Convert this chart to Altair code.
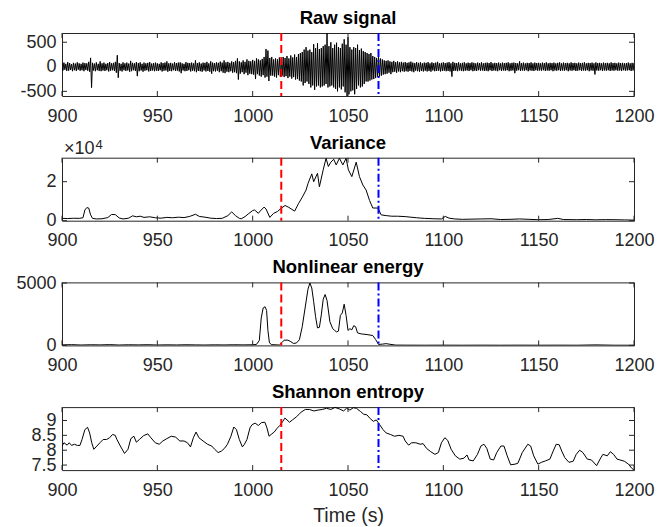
import altair as alt
import pandas as pd

# ---------------- data ----------------
raw_start = 900
raw_upper = [
    70, 85, 60, 95, 75, 55, 80, 65, 90, 70,
    60, 85, 75, 70, 100, 182, 80, 65, 90, 60,
    110, 70, 85, 60, 75, 95, 70, 80, 100, 235,
    75, 60, 90, 70, 85, 65, 120, 80, 70, 95,
    75, 90, 60, 85, 70, 80, 95, 65, 75, 85,
    70, 60, 90, 75, 85, 110, 70, 80, 65, 90,
    75, 85, 90, 70, 60, 95, 80, 75, 85, 70,
    130, 75, 90, 65, 85, 80, 100, 70, 110, 85,
    75, 90, 80, 105, 85, 130, 90, 100, 80, 110,
    95, 120, 170, 110, 90, 130, 100, 150, 120, 110,
    140, 120, 170, 150, 130, 160, 200, 360, 330, 180,
    200, 150, 170, 150, 190, 160, 200, 180, 220, 170,
    230, 190, 250, 200, 260, 280, 300, 350, 400, 330,
    350, 300, 460, 380, 480, 360, 380, 420, 450, 688,
    420, 500, 380, 450, 490, 400, 380, 470, 560, 450,
    600, 400, 350, 400, 380, 450, 340, 370, 320, 300,
    280, 260, 280, 220, 200, 180, 200, 170, 150, 130,
    120, 130, 110, 100, 120, 95, 110, 90, 100, 85,
    95, 80, 90, 105, 85, 75, 95, 80, 90, 70,
    85, 80, 95, 70, 90, 75, 85, 100, 70, 80,
    90, 75, 85, 95, 70, 100, 80, 75, 90, 70,
    80, 90, 70, 85, 75, 90, 80, 70, 85, 75,
    90, 70, 80, 85, 75, 95, 70, 80, 75, 85,
    70, 85, 75, 80, 90, 70, 80, 85, 75, 70,
    110, 75, 85, 70, 80, 75, 90, 70, 85, 75,
    80, 70, 85, 75, 90, 70, 80, 75, 85, 70,
    80, 90, 70, 85, 75, 80, 70, 90, 75, 80,
    70, 85, 75, 80, 90, 70, 80, 75, 85, 70,
    90, 75, 80, 70, 85, 75, 80, 70, 90, 75,
    80, 70, 85, 75, 80, 70, 75, 85, 70, 80,
    75,
]
raw_lower = [
    -75, -60, -85, -80, -65, -90, -70, -85, -60, -80,
    -70, -90, -65, -80, -100, -425, -75, -90, -70, -85,
    -90, -75, -85, -70, -95, -80, -70, -85, -120, -223,
    -80, -95, -70, -85, -75, -100, -90, -70, -85, -190,
    -90, -75, -100, -80, -70, -95, -85, -75, -90, -80,
    -85, -70, -95, -80, -75, -100, -85, -90, -70, -85,
    -80, -95, -130, -75, -90, -85, -70, -95, -80, -90,
    -110, -85, -90, -100, -75, -95, -85, -100, -140, -90,
    -95, -80, -110, -90, -120, -130, -100, -110, -90, -120,
    -110, -130, -260, -140, -110, -150, -120, -170, -140, -150,
    -160, -250, -150, -180, -200, -170, -220, -200, -290, -180,
    -180, -200, -220, -170, -200, -180, -210, -190, -230, -200,
    -240, -210, -260, -250, -280, -300, -380, -330, -300, -350,
    -420, -380, -470, -400, -380, -420, -400, -380, -350, -420,
    -400, -380, -420, -450, -500, -420, -460, -400, -520, -595,
    -560, -500, -480, -560, -450, -380, -420, -400, -350, -300,
    -300, -280, -260, -250, -230, -200, -200, -180, -160, -150,
    -140, -120, -150, -110, -100, -120, -95, -110, -90, -100,
    -90, -100, -85, -95, -110, -80, -90, -100, -85, -95,
    -80, -95, -85, -100, -75, -90, -85, -80, -95, -85,
    -80, -90, -85, -95, -200, -85, -80, -90, -75, -85,
    -90, -80, -75, -85, -70, -90, -80, -85, -70, -80,
    -75, -85, -80, -90, -70, -85, -75, -80, -90, -70,
    -85, -75, -80, -70, -90, -80, -75, -130, -80, -70,
    -85, -75, -80, -70, -90, -75, -80, -85, -70, -80,
    -75, -80, -70, -85, -75, -80, -70, -90, -75, -80,
    -70, -85, -75, -80, -70, -90, -75, -80, -70, -85,
    -80, -70, -85, -75, -80, -70, -90, -75, -80, -156,
    -75, -80, -70, -85, -75, -80, -70, -85, -75, -80,
    -70, -80, -75, -85, -70, -80, -75, -70, -85, -75,
    -70,
]

var_t = [
    900, 903, 906, 909, 911, 912, 913, 914, 915, 916,
    918, 921, 924, 926, 928, 930, 932, 935, 937, 939,
    941, 943, 946, 949, 952, 955, 958, 961, 964, 967,
    970, 972, 975, 978, 981, 984, 987, 989, 991, 993,
    994, 996, 998, 1000, 1001, 1003, 1004, 1006, 1007, 1009,
    1011, 1013, 1015, 1017, 1019, 1022, 1024, 1026, 1028, 1029,
    1031, 1032, 1034, 1035, 1037, 1038.5, 1039.7, 1041, 1042.5, 1043.8,
    1045.5, 1047.3, 1049, 1050.2, 1052, 1054.3, 1056, 1057.8, 1059.5, 1061.3,
    1063, 1065.7, 1067.4, 1070, 1073, 1076, 1080, 1083, 1086, 1090,
    1095, 1099, 1101, 1103, 1106, 1110, 1115, 1120, 1125, 1130,
    1135, 1140, 1145, 1150, 1155, 1160, 1163, 1170, 1175, 1180,
    1185, 1190, 1195, 1200,
]
var_v = [
    1200, 1100, 1250, 1200, 1500, 5500, 6700, 6500, 3000, 1200,
    900, 1000, 1600, 3200, 3100, 1400, 900, 1300, 2500, 2000,
    2300, 1700, 2000, 1500, 1300, 1700, 1500, 1800, 1600, 2200,
    3300, 2200, 1800, 1300, 1100, 1200, 2600, 4500, 2600, 1200,
    1000, 2100, 3700, 5200, 5500, 3800, 5000, 7000, 6000, 1700,
    3800, 4700, 6400, 7800, 6800, 4900, 8700, 12000, 15700, 19000,
    24000, 20000, 24300, 17400, 26100, 32000, 27800, 30000, 31500, 28600,
    32000, 28600, 32000, 26100, 22600, 30000, 22600, 18300, 15700, 10400,
    6500, 6500, 3000, 2600, 2300, 2300, 2100, 1800, 1500, 1200,
    1000, 900, 2200, 1300, 900, 700, 800, 900, 1000, 600,
    700, 900, 700, 500, 600, 1200, 600, 500, 600, 450,
    550, 500, 400, 300,
]

neo_t = [
    900, 905, 910, 915, 920, 925, 930, 935, 940, 945,
    950, 955, 960, 965, 970, 975, 980, 985, 990, 995,
    1000, 1002, 1003.5, 1004.5, 1005.5, 1006.5, 1007.3, 1008, 1008.8, 1010,
    1014, 1015.5, 1016.5, 1018.5, 1020, 1021.5, 1023, 1024.5, 1026, 1027.5,
    1029, 1030, 1031, 1032, 1033, 1034, 1035, 1036, 1037, 1038,
    1039, 1040.5, 1042, 1043, 1044, 1045, 1046, 1047, 1048, 1049,
    1050, 1051, 1052, 1053, 1054, 1055, 1057, 1060, 1063, 1064.5,
    1066, 1068, 1070, 1072, 1075, 1080, 1090, 1100, 1110, 1120,
    1130, 1140, 1150, 1160, 1170, 1180, 1190, 1200,
]
neo_v = [
    40, 60, 30, 50, 40, 60, 30, 50, 40, 55,
    30, 45, 35, 50, 40, 30, 45, 35, 50, 40,
    50, 80, 400, 2200, 3000, 3100, 2800, 1200, 200, 60,
    30, 250, 420, 420, 300, 150, 200, 450, 1500, 3000,
    4500, 5000, 4600, 3500, 2300, 1400, 1450, 2450, 3700, 4080,
    3600, 1900, 1340, 1200, 1080, 1150, 2400, 2600, 3300, 2400,
    1200, 1340, 1250, 1580, 1500, 1000, 920, 870, 790, 470,
    80, 100, 140, 90, 25, 20, 15, 20, 15, 20,
    15, 20, 15, 20, 15, 40, 15, 15,
]

ent_t = [
    900, 901, 902.7, 903.8, 905, 906.5, 908, 909.4, 910.5, 912,
    913.4, 914.5, 915.6, 916.7, 918.3, 919.9, 921.6, 923.4, 925, 926.5,
    927.9, 928.8, 930.6, 932.8, 934.6, 936.1, 937.7, 939, 940.6, 942.8,
    945, 946.6, 948.9, 951, 952.9, 955, 957.3, 959.6, 961.8, 964,
    965.8, 967.4, 968.9, 970.3, 971.8, 974, 976.3, 978.5, 980.1, 981.9,
    983.6, 985.2, 986.8, 988.6, 990.1, 991.5, 993, 994.6, 995.7, 997,
    998.6, 999.7, 1001.3, 1003, 1004.6, 1006.4, 1007.5, 1008.6, 1009.7, 1011.3,
    1012.6, 1014.2, 1015.8, 1016.9, 1018, 1019.3, 1020.9, 1023.1, 1025.4, 1027.6,
    1029.8, 1032.1, 1034.3, 1036.5, 1038.7, 1041, 1043.2, 1045.4, 1047.7, 1049.2,
    1051, 1052.8, 1054.4, 1056.6, 1058.2, 1059.9, 1061.7, 1063.3, 1064.8, 1066.6,
    1068.4, 1070, 1072.2, 1074.4, 1076.7, 1078.9, 1080, 1081.8, 1083.4, 1085.6,
    1087.8, 1089.4, 1091.2, 1093.4, 1095.6, 1097.4, 1099, 1100.8, 1102.3, 1104.1,
    1106.3, 1108.6, 1110.8, 1112.4, 1113.5, 1115.7, 1117.9, 1119.7, 1121.3, 1122.8,
    1124.6, 1126.4, 1128, 1130.2, 1131.8, 1133.5, 1135.3, 1137.6, 1139.1, 1141.4,
    1144.3, 1145.8, 1147.4, 1149.6, 1151.4, 1153.6, 1155.9, 1157.6, 1159.2, 1160.8,
    1162.1, 1163.7, 1165.9, 1168.1, 1169.7, 1171.5, 1173.2, 1175.5, 1177.7, 1180.4,
    1182.2, 1183.7, 1186, 1187.6, 1189.3, 1191.1, 1192.7, 1194.9, 1197.1, 1198.7,
    1200,
]
ent_v = [
    8.14, 8.25, 8.17, 8.25, 8.16, 8.2, 8.16, 8.16, 8.36, 8.69,
    8.77, 8.58, 8.25, 8.03, 8.14, 8.25, 8.36, 8.36, 8.42, 8.53,
    8.5, 8.36, 8.14, 7.89, 8.03, 8.39, 8.47, 8.27, 8.36, 8.49,
    8.55, 8.42, 8.25, 8.2, 8.31, 8.39, 8.47, 8.44, 8.31, 8.31,
    8.25, 8.11, 8.42, 8.61, 8.42, 8.31, 8.2, 8.14, 8.03, 7.92,
    7.97, 8.06, 8.2, 8.47, 8.78, 8.69, 8.36, 8.11, 8.2, 8.36,
    8.75, 8.86, 8.91, 8.83, 8.93, 8.94, 8.75, 8.47, 8.53, 8.61,
    8.72, 8.83, 8.97, 9.08, 9.02, 8.94, 9.02, 9.13, 9.28, 9.37,
    9.37, 9.32, 9.35, 9.37, 9.41, 9.37, 9.44, 9.39, 9.32, 9.41,
    9.35, 9.43, 9.41, 9.3, 9.21, 9.19, 9.06, 8.97, 9.02, 8.86,
    8.69, 8.58, 8.53, 8.47, 8.5, 8.47, 8.31, 8.17, 8.25, 8.25,
    8.2, 8.22, 8.06, 7.95, 7.86, 7.92, 8.25, 8.42, 8.33, 8.03,
    7.81, 7.7, 7.73, 7.84, 7.67, 7.64, 7.86, 8.14, 8.2, 8.06,
    7.7, 7.67, 7.92, 8.14, 8.14, 7.81, 7.51, 7.53, 7.56, 7.92,
    8.2, 8.14, 7.81, 7.53, 7.59, 7.64, 7.7, 7.97, 8.2, 8.18,
    7.97, 7.75, 7.59, 7.63, 7.86, 8.0, 7.92, 7.7, 7.67, 7.48,
    7.7, 7.86, 7.81, 7.95, 7.86, 7.7, 7.67, 7.63, 7.53, 7.4,
    7.33,
]

onset_time = [1015]
end_time = [1066]
x_ticks = [900, 950, 1000, 1050, 1100, 1150, 1200]
raw_ticks = [-500, 0, 500]
var_ticks = [0, 20000]
neo_ticks = [0, 5000]
ent_ticks = [7.5, 8, 8.5, 9]
titles = ["Raw signal", "Variance", "Nonlinear energy", "Shannon entropy"]

# ---------------- tables ----------------
raw_rows = []
for i, (u, l) in enumerate(zip(raw_upper, raw_lower)):
    raw_rows.append({"t": raw_start + i, "v": u})
    raw_rows.append({"t": raw_start + i + 0.5, "v": l})
raw_df = pd.DataFrame(raw_rows)
var_df = pd.DataFrame({"t": var_t, "v": var_v})
neo_df = pd.DataFrame({"t": neo_t, "v": neo_v})
ent_df = pd.DataFrame({"t": ent_t, "v": ent_v})

W, H = 572, 63
FONT = "Liberation Sans"
AX = "#262626"
TICK_FS = 18


def panel(df, title, ydomain, yticks, ylabel_expr="'' + datum.value",
          xtitle=None, exponent=False):
    xaxis = alt.Axis(values=x_ticks, labelExpr="'' + datum.value",
                     labelPadding=11, labelFlush=False, labelOverlap=False,
                     title=xtitle if xtitle else None, titlePadding=7)
    yaxis = alt.Axis(values=yticks, labelExpr=ylabel_expr, labelPadding=6,
                     labelFlush=False, labelOverlap=False, title=None)
    xs = alt.Scale(domain=[900, 1200], nice=False, zero=False)
    ys = alt.Scale(domain=ydomain, nice=False, zero=False)

    def X():
        return alt.X("t:Q", scale=xs, axis=xaxis)

    def Y():
        return alt.Y("v:Q", scale=ys, axis=yaxis)

    line = alt.Chart(df).mark_line(color="black", strokeWidth=1, clip=True).encode(
        x=X(), y=Y())

    xt = pd.DataFrame({"t": x_ticks})
    yt = pd.DataFrame({"v": yticks})
    tick_style = dict(color=AX, strokeWidth=1)
    xt_bottom = alt.Chart(xt).mark_rule(**tick_style).encode(
        x=X(), y=alt.value(H - 5), y2=alt.value(H))
    xt_top = alt.Chart(xt).mark_rule(**tick_style).encode(
        x=X(), y=alt.value(0), y2=alt.value(5))
    yt_left = alt.Chart(yt).mark_rule(**tick_style).encode(
        y=Y(), x=alt.value(0), x2=alt.value(5))
    yt_right = alt.Chart(yt).mark_rule(**tick_style).encode(
        y=Y(), x=alt.value(W - 5), x2=alt.value(W))

    red = alt.Chart(pd.DataFrame({"t": onset_time})).mark_rule(
        color="#ff0000", strokeWidth=2, strokeDash=[8, 4]).encode(x=X())
    blue = alt.Chart(pd.DataFrame({"t": end_time})).mark_rule(
        color="#0000ff", strokeWidth=2, strokeDash=[8, 3, 2, 3]).encode(x=X())

    one = pd.DataFrame({"k": [0]})
    ttl = alt.Chart(one).mark_text(
        text=title, font=FONT, fontSize=18.5, fontWeight="bold", color="black",
        align="center", baseline="alphabetic").encode(
        x=alt.value(W / 2), y=alt.value(-9))

    layers = [line, xt_bottom, xt_top, yt_left, yt_right, red, blue, ttl]
    if exponent:
        base = alt.Chart(one).mark_text(
            text="\u00d710", font=FONT, fontSize=18, color=AX, align="left",
            baseline="alphabetic").encode(x=alt.value(2), y=alt.value(-4))
        sup = alt.Chart(one).mark_text(
            text="4", font=FONT, fontSize=13, color=AX, align="left",
            baseline="alphabetic").encode(x=alt.value(33.5), y=alt.value(-9))
        layers += [base, sup]
    return alt.layer(*layers).properties(width=W, height=H)


p1 = panel(raw_df, titles[0], [-595, 688], raw_ticks)
p2 = panel(var_df, titles[1], [0, 32300], var_ticks,
           ylabel_expr="'' + (datum.value / 10000)", exponent=True)
p3 = panel(neo_df, titles[2], [0, 5050], neo_ticks)
p4 = panel(ent_df, titles[3], [7.33, 9.45], ent_ticks, xtitle="Time (s)")

chart = alt.vconcat(p1, p2, p3, p4, spacing=61.7, bounds="flush").properties(
    padding={"left": 15, "top": 8, "right": 10, "bottom": 1}
).configure_view(
    stroke=AX, strokeWidth=1
).configure_axis(
    domain=False, ticks=False, grid=False,
    labelFont=FONT, labelFontSize=TICK_FS, labelColor=AX,
    titleFont=FONT, titleFontSize=19.5, titleFontWeight="normal", titleColor=AX,
)

chart.save("out.html", embed_options={"renderer": "svg", "actions": False})
